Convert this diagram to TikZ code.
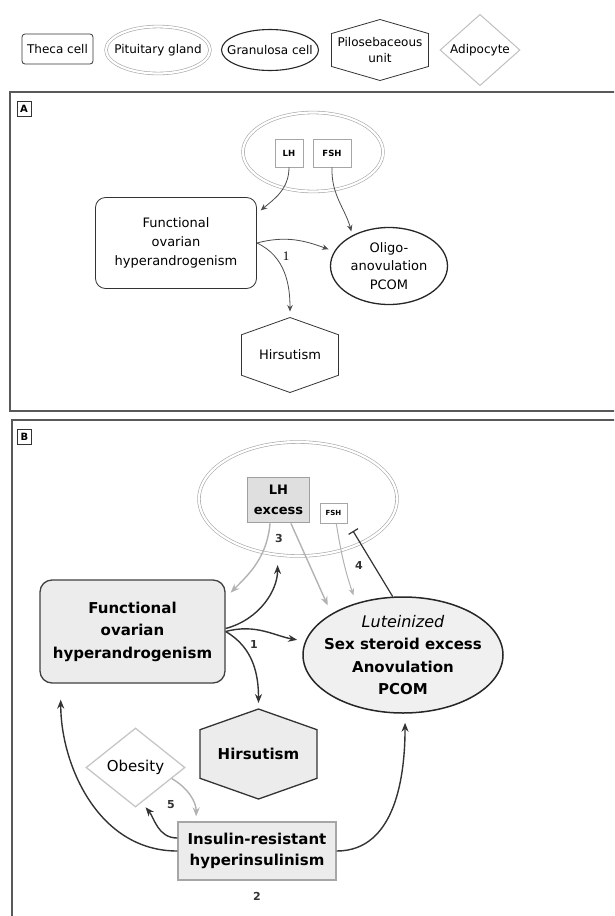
\documentclass[tikz,border=0pt]{standalone}
\usepackage{fontspec}
\setmainfont{DejaVu Sans}
\newfontfamily\numserif{Liberation Serif}
\usetikzlibrary{positioning}
\usetikzlibrary{calc,arrows.meta,shapes.geometric,backgrounds}

% hexagon outline round a (rectangular) node, vertices at top and bottom
\newcommand{\hexborder}[2]{%
  \draw[#2] (#1.north)
    -- ($(#1.north east)!0.23!(#1.south east)$)
    -- ($(#1.north east)!0.77!(#1.south east)$)
    -- (#1.south)
    -- ($(#1.south west)!0.23!(#1.north west)$)
    -- ($(#1.south west)!0.77!(#1.north west)$)
    -- cycle;}

\tikzset{
  legendtxt/.style={font=\fontsize{12}{16}\selectfont, align=center},
  txtA/.style={font=\fontsize{13}{19}\selectfont, align=center},
  txtB/.style={font=\bfseries\fontsize{15}{22.5}\selectfont, align=center},
  theca/.style={draw=black!80, line width=0.8pt, rounded corners=3pt, inner sep=0pt},
  pituitary/.style={ellipse, draw=gray!70, line width=0.6pt, double, double distance=2.2pt, inner sep=0pt},
  granulosa/.style={ellipse, draw=black!85, line width=1.1pt, inner sep=0pt},
  hexcell/.style={inner sep=0pt, outer sep=0pt},
  adipocyte/.style={diamond, draw=gray!50, line width=1pt, inner sep=0pt},
  hormone/.style={draw=gray!70, line width=0.8pt, font=\bfseries\fontsize{8.5}{10}\selectfont, inner sep=0pt},
  panel/.style={draw=black!65, line width=1.4pt},
  panellabel/.style={draw=black!80, line width=0.7pt, font=\bfseries\fontsize{10}{10}\selectfont, inner sep=2pt, minimum width=14, minimum height=15},
  num/.style={font=\bfseries\fontsize{11}{11}\selectfont, text=black!80},
  arrA/.style={-{Stealth[length=6.5pt,width=5.5pt]}, draw=black!70, line width=0.8pt},
  arrB/.style={-{Stealth[length=9pt,width=7pt]}, draw=black!80, line width=1.4pt},
  arrG/.style={-{Stealth[length=9pt,width=7pt]}, draw=gray!60, line width=1.4pt},
}

\begin{document}
\begin{tikzpicture}[x=1pt,y=1pt]

	% Proper size --- Bounding box
	\useasboundingbox (0,0) rectangle (614,-916);
	\clip (0,0) rectangle (614,-916);

	% ------------------------------------------------
	% LEGEND
	% ------------------------------------------------
	\node[theca, legendtxt, minimum width=71, minimum height=30] (legTheca) at (57.5,-49) {Theca cell};
	\node[pituitary, legendtxt, inner xsep=-7pt, minimum width=104, minimum height=47] (legPit) at (158,-50) {Pituitary gland};
	\node[granulosa, legendtxt, inner xsep=-8.5pt, minimum width=97, minimum height=41] (legGran) at (270,-50) {Granulosa cell};
	\node[hexcell, legendtxt, minimum width=97, minimum height=61] (legPilo) at (380,-50) {Pilosebaceous\\unit};
	\hexborder{legPilo}{draw=black!80, line width=0.8pt}
	\node[adipocyte, legendtxt, minimum width=80, minimum height=67] (legAdip) at (480,-50) {Adipocyte};

	% ------------------------------------------------
	% PANEL A
	% ------------------------------------------------
	\draw[panel] (10,-92) rectangle (640,-411);
	\node[panellabel] (labA) at (24,-109) {A};

	% pituitary with LH and FSH
	\node[pituitary, minimum width=140, minimum height=79] (pitA) at (313,-152) {};
	\node[hormone, minimum width=28, minimum height=28] (lhA) at (289,-153) {LH};
	\node[hormone, minimum width=38, minimum height=28] (fshA) at (332,-153) {FSH};

	% ovary and targets
	\node[theca, txtA, rounded corners=10pt, minimum width=161, minimum height=91] (fohA) at (176,-243) {Functional\\ovarian\\hyperandrogenism};
	\node[granulosa, txtA, line width=1.3pt, minimum width=117, minimum height=77, font=\fontsize{13}{18.5}\selectfont] (oligoA) at (389,-266) {Oligo-\\anovulation\\PCOM};
	\node[hexcell, txtA, minimum width=97, minimum height=75] (hirsA) at (290,-355) {Hirsutism};
	\hexborder{hirsA}{draw=black!80, line width=0.8pt}
	\node[font=\numserif\fontsize{13}{13}\selectfont] (oneA) at (286,-256) {1};

	% connectors
	\draw[arrA, shorten >=5pt] (lhA.south) to[out=-90,in=40] (fohA.20);
	\draw[arrA, shorten >=4pt] (fshA.south) to[out=-92,in=105] (oligoA.140);
	\draw[arrA, shorten >=6pt] (fohA.east) to[out=15,in=160] (oligoA.165);
	\draw[arrA, shorten >=6pt] (fohA.east) to[out=-25,in=90] (hirsA.north);

	% ------------------------------------------------
	% PANEL B
	% ------------------------------------------------
	\draw[panel] (12,-420) rectangle (640,-940);
	\node[panellabel] (labB) at (24.5,-437) {B};

	% pituitary with LH excess and FSH
	\node[pituitary, minimum width=198, minimum height=114] (pitB) at (298,-499) {};
	\node[hormone, draw=gray!75, line width=1.6pt, fill=gray!25, font=\bfseries\fontsize{13}{19.5}\selectfont, align=center, minimum width=62, minimum height=45] (lhB) at (278.5,-500) {LH\\excess};
	\node[hormone, line width=0.6pt, font=\bfseries\fontsize{7}{7}\selectfont, minimum width=27, minimum height=20] (fshB) at (333.5,-513) {FSH};
	\node[num] (threeB) at (279,-538) {3};
	\node[num] (fourB) at (359,-565) {4};

	% ovary, hair and granulosa
	\node[theca, txtB, rounded corners=12pt, fill=gray!15, draw=black!75, line width=1.3pt, minimum width=185, minimum height=103] (fohB) at (132.5,-631.5) {Functional\\ovarian\\hyperandrogenism};
	\node[granulosa, txtB, fill=gray!12, line width=1.5pt, inner xsep=-10pt, minimum width=200, minimum height=116] (lutB) at (403,-655) {{\mdseries\itshape\fontsize{16}{22.5}\selectfont Luteinized}\\Sex steroid excess\\Anovulation\\PCOM};
	\node[hexcell, txtB, minimum width=117, minimum height=90] (hirsB) at (258.5,-754) {Hirsutism};
	\begin{scope}[on background layer]
		\hexborder{hirsB}{draw=black!80, line width=1.3pt, fill=gray!15}
	\end{scope}
	\node[num] (oneB) at (254,-644) {1};

	% adipocyte and insulin
	\node[adipocyte, draw=gray!45, line width=1.3pt, font=\fontsize{15}{15}\selectfont, minimum width=99, minimum height=79] (obB) at (135.5,-767.5) {Obesity};
	\node[txtB, draw=gray!70, line width=1.3pt, fill=gray!15, inner sep=0pt, minimum width=158, minimum height=58, font=\bfseries\fontsize{15}{21}\selectfont] (insB) at (257,-851) {Insulin-resistant\\hyperinsulinism};
	\node[num] (fiveB) at (171,-805) {5};
	\node[num] (twoB) at (257,-896) {2};

	\coordinate (inhib) at (353,-531);

	% connectors
	\draw[arrG, shorten >=7pt] (lhB.-110) to[out=-95,in=45] (fohB.20);
	\draw[arrB, shorten >=10pt] ([yshift=3]fohB.east) to[out=15,in=-90] (pitB.-110);
	\draw[arrG, shorten >=9pt] (lhB.-62) -- (lutB.150);
	\draw[-{Stealth[length=7pt,width=5.5pt]}, draw=gray!60, line width=1pt, shorten >=8pt] (fshB.-75) to[bend right=5] (lutB.132);
	\draw[black!80, line width=1.2pt, -{Bar[width=11pt]}] (lutB.100) -- (inhib);
	\draw[arrB, shorten >=8pt] (fohB.east) to[out=15,in=170] (lutB.172);
	\draw[arrB, shorten >=6pt] (fohB.east) to[out=-30,in=90] (hirsB.north);
	\draw[arrB, shorten >=16pt] (insB.west) to[out=180,in=-90] (fohB.216);
	\draw[arrB, shorten >=9pt] (insB.east) to[out=0,in=-90] (lutB.-88);
	\draw[arrB, shorten >=6pt] ([yshift=13]insB.west) to[out=180,in=-50] (obB.-80);
	\draw[arrG, shorten >=5pt] (obB.-17) to[out=-30,in=90] (insB.154);

\end{tikzpicture}
\end{document}
